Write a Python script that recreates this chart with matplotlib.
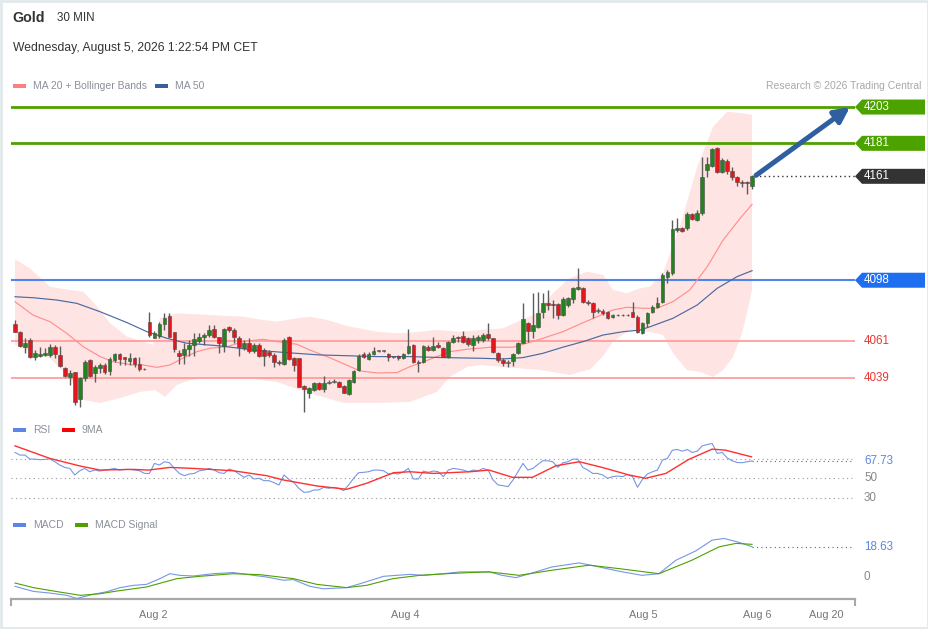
import matplotlib
matplotlib.use("Agg")
import matplotlib.pyplot as plt
from matplotlib.patches import Rectangle, Polygon
import numpy as np

plt.rcParams['font.family'] = ['Liberation Sans', 'DejaVu Sans']

# ---------------- data ----------------
OPEN = [4071.5, 4066.8, 4057.7, 4061.8, 4051.3, 4052.2, 4052.7, 4052.7, 4057.7, 4052.7,
        4044.6, 4039.5, 4042.6, 4026.0, 4038.6, 4049.6, 4041.6, 4044.6, 4046.6, 4043.2,
        4049.6, 4053.1, 4051.3, 4049.2, 4050.7, 4047.2, 4044.0, 4072.9, 4062.8, 4064.2,
        4071.5, 4076.3, 4066.8, 4053.7, 4052.7, 4056.1, 4058.7, 4061.3, 4063.4, 4064.8,
        4068.4, 4063.4, 4058.1, 4069.5, 4067.8, 4062.8, 4056.7, 4060.1, 4055.3, 4058.7,
        4055.7, 4054.7, 4052.7, 4048.6, 4047.2, 4063.8, 4050.7, 4050.7, 4034.1, 4029.5,
        4031.5, 4035.5, 4031.9, 4036.0, 4036.5, 4036.5, 4033.9, 4028.9, 4036.5, 4043.6,
        4053.3, 4050.2, 4053.3, 4055.0, 4055.1, 4053.3, 4051.6, 4052.1, 4050.7, 4053.7,
        4058.7, 4048.6, 4048.6, 4057.7, 4055.7, 4058.7, 4056.7, 4051.6, 4060.7, 4063.8,
        4064.2, 4062.8, 4058.7, 4061.8, 4061.8, 4065.4, 4062.8, 4053.7, 4049.6, 4048.4,
        4049.0, 4053.7, 4060.1, 4072.2, 4067.4, 4069.8, 4078.9, 4084.4, 4083.6, 4083.6,
        4076.9, 4083.0, 4086.4, 4092.5, 4093.1, 4085.0, 4084.4, 4079.6, 4079.5, 4078.9,
        4075.5, 4076.9, 4076.7, 4076.9, 4078.9, 4075.9, 4065.8, 4071.9, 4078.9, 4081.9,
        4085.0, 4100.1, 4102.2, 4128.4, 4129.8, 4129.5, 4137.9, 4134.5, 4138.9, 4164.8,
        4167.2, 4178.3, 4163.8, 4170.4, 4164.4, 4160.4, 4157.7, 4157.7, 4155.1]
HIGH = [4073.9, 4067.2, 4062.8, 4062.8, 4055.7, 4057.3, 4056.7, 4059.3, 4058.7, 4058.1,
        4045.6, 4043.6, 4042.6, 4039.5, 4049.6, 4050.1, 4046.6, 4047.6, 4047.6, 4051.3,
        4053.7, 4053.7, 4051.6, 4054.1, 4051.6, 4051.6, 4044.6, 4078.9, 4067.4, 4072.9,
        4077.9, 4078.3, 4066.8, 4055.7, 4059.8, 4061.8, 4065.8, 4065.8, 4065.8, 4070.8,
        4070.8, 4063.8, 4068.8, 4070.2, 4068.8, 4064.2, 4061.8, 4062.8, 4060.1, 4059.8,
        4056.7, 4055.7, 4053.7, 4049.6, 4062.8, 4064.2, 4051.6, 4050.7, 4034.5, 4033.5,
        4036.5, 4036.5, 4039.9, 4037.5, 4038.0, 4037.1, 4034.5, 4038.0, 4043.6, 4053.1,
        4054.7, 4054.7, 4057.3, 4055.5, 4055.5, 4053.7, 4052.2, 4052.7, 4053.7, 4068.2,
        4059.3, 4049.6, 4058.7, 4058.7, 4063.8, 4060.7, 4057.3, 4061.3, 4064.8, 4064.2,
        4067.4, 4063.4, 4064.8, 4064.8, 4065.8, 4071.9, 4062.8, 4054.7, 4050.7, 4049.6,
        4053.7, 4060.7, 4084.0, 4072.9, 4090.0, 4091.0, 4090.0, 4092.1, 4086.0, 4084.0,
        4088.0, 4088.0, 4094.1, 4105.2, 4093.7, 4086.0, 4085.0, 4080.9, 4080.3, 4079.5,
        4077.5, 4077.3, 4077.3, 4077.3, 4085.0, 4076.9, 4072.9, 4078.9, 4083.0, 4088.0,
        4102.2, 4104.2, 4134.5, 4135.5, 4130.4, 4139.5, 4138.5, 4140.5, 4172.5, 4172.5,
        4177.9, 4178.9, 4171.9, 4171.3, 4166.8, 4161.1, 4158.7, 4158.1, 4161.5]
LOW = [4066.6, 4057.7, 4053.7, 4050.7, 4049.6, 4051.6, 4052.1, 4051.6, 4050.7, 4045.6,
       4039.5, 4034.5, 4022.4, 4021.3, 4037.1, 4039.5, 4036.5, 4041.6, 4041.2, 4040.6,
       4048.6, 4046.6, 4046.6, 4046.6, 4045.6, 4043.2, 4043.6, 4063.4, 4062.8, 4062.8,
       4067.8, 4063.4, 4054.7, 4047.2, 4047.2, 4052.1, 4052.1, 4060.1, 4058.7, 4063.4,
       4062.8, 4053.7, 4054.7, 4066.8, 4059.8, 4052.1, 4055.7, 4053.7, 4053.7, 4051.6,
       4046.0, 4051.6, 4045.6, 4046.6, 4046.6, 4049.6, 4043.2, 4033.1, 4018.3, 4026.4,
       4031.0, 4031.5, 4030.4, 4035.1, 4035.5, 4033.1, 4029.5, 4028.4, 4035.9, 4043.0,
       4050.7, 4049.6, 4052.7, 4054.5, 4054.5, 4049.2, 4051.0, 4049.6, 4050.2, 4053.3,
       4048.0, 4042.6, 4048.0, 4055.3, 4055.3, 4056.7, 4051.3, 4050.7, 4060.1, 4060.7,
       4060.1, 4058.1, 4055.3, 4060.1, 4060.7, 4061.8, 4054.1, 4048.6, 4046.0, 4045.6,
       4046.0, 4053.1, 4059.8, 4060.7, 4062.8, 4068.8, 4074.9, 4079.9, 4074.9, 4074.3,
       4076.3, 4081.9, 4084.0, 4092.1, 4084.4, 4083.0, 4074.9, 4077.9, 4076.9, 4074.3,
       4074.9, 4076.3, 4076.3, 4076.3, 4075.5, 4065.8, 4065.4, 4069.8, 4077.9, 4081.0,
       4084.0, 4096.1, 4101.2, 4127.4, 4127.2, 4128.4, 4134.5, 4134.1, 4137.5, 4160.3,
       4166.8, 4163.1, 4163.1, 4162.4, 4158.7, 4155.1, 4154.3, 4150.2, 4153.1]
CLOSE = [4066.8, 4058.1, 4060.1, 4051.6, 4054.1, 4053.1, 4053.7, 4057.7, 4053.3, 4046.0,
         4040.0, 4041.9, 4024.4, 4038.6, 4048.6, 4040.0, 4045.2, 4046.6, 4042.6, 4050.1,
         4053.1, 4050.1, 4050.1, 4050.7, 4047.2, 4044.0, 4044.2, 4064.8, 4065.8, 4071.5,
         4074.9, 4063.8, 4056.1, 4052.1, 4056.1, 4058.7, 4062.2, 4063.4, 4064.8, 4067.8,
         4063.4, 4059.8, 4068.4, 4067.8, 4063.4, 4057.3, 4060.1, 4055.3, 4058.7, 4052.1,
         4052.1, 4052.7, 4048.6, 4047.6, 4061.8, 4050.1, 4046.6, 4033.5, 4031.9, 4032.5,
         4035.9, 4031.9, 4035.9, 4036.3, 4036.6, 4033.5, 4029.8, 4037.5, 4043.0, 4052.3,
         4051.3, 4053.3, 4055.3, 4055.1, 4055.0, 4051.3, 4051.8, 4050.7, 4053.1, 4058.1,
         4048.6, 4047.6, 4058.1, 4055.7, 4058.1, 4057.3, 4051.6, 4060.7, 4062.8, 4062.8,
         4060.7, 4059.3, 4062.8, 4063.4, 4064.8, 4062.8, 4054.7, 4049.6, 4047.6, 4048.1,
         4053.1, 4060.1, 4074.3, 4067.4, 4070.8, 4077.9, 4084.0, 4083.0, 4083.0, 4076.9,
         4086.4, 4087.0, 4093.1, 4094.1, 4085.0, 4084.0, 4078.9, 4079.3, 4077.9, 4074.9,
         4076.9, 4076.7, 4076.9, 4076.7, 4075.9, 4066.8, 4072.2, 4077.9, 4081.9, 4084.0,
         4101.2, 4103.2, 4128.8, 4129.8, 4127.8, 4137.9, 4134.9, 4138.9, 4160.7, 4168.4,
         4177.3, 4163.8, 4170.8, 4164.4, 4160.4, 4157.7, 4157.1, 4156.7, 4161.0]

# Moving averages / Bollinger bands read at sample candles
MA20_IDX = [0, 3.6, 7.0, 10.4, 13.7, 17.1, 19.7, 23.7, 25.7, 28.5, 31.1, 33.7, 36.5, 39.2, 42.6,
            45.8, 49.8, 52.6, 56.6, 59.2, 63.3, 69.3, 72.7, 76.7, 79.3, 81.3, 84.7, 87.3, 90.8,
            93.4, 95.4, 100, 102.8, 106, 110, 113.5, 116.9, 120.1, 122.9, 126.1, 128.9, 132.1,
            135.5, 139, 142.2, 145.6, 148]
MA20 = [4085.0, 4076.9, 4072.9, 4065.8, 4057.7, 4051.7, 4048.6, 4046.6, 4046.6, 4045.2, 4046.6,
        4050.7, 4054.7, 4056.8, 4057.7, 4060.8, 4062.2, 4060.8, 4059.2, 4055.7, 4050.9, 4043.0,
        4041.8, 4042.0, 4045.6, 4047.7, 4051.7, 4054.7, 4056.2, 4056.8, 4057.4, 4057.4, 4059.8,
        4062.8, 4066.8, 4071.5, 4075.9, 4080.0, 4081.6, 4081.0, 4081.0, 4085.0, 4092.1, 4106.2,
        4122.4, 4135.5, 4144.0]
MA50_IDX = [0, 3.6, 8.4, 12.4, 17.1, 22.5, 26.5, 30.5, 34.5, 41.2, 47.8, 54.6, 61.2, 65.9, 72.7,
            79.3, 85.9, 93.4, 98, 102, 106, 110, 114.1, 118.1, 122.1, 125.5, 127.5, 132.1, 137,
            141, 145, 148]
MA50 = [4088.0, 4087.4, 4086.0, 4084.0, 4078.9, 4072.3, 4066.8, 4062.8, 4059.8, 4058.2, 4055.7,
        4054.1, 4052.7, 4052.3, 4051.7, 4051.7, 4051.1, 4050.7, 4050.3, 4051.1, 4053.7, 4057.4,
        4060.8, 4064.8, 4066.8, 4067.8, 4069.8, 4074.9, 4083.0, 4093.1, 4100.2, 4103.8]
BB_UP_IDX = [0, 3, 7, 11, 13.7, 16.5, 19.1, 22.5, 25.7, 27.7, 29.1, 32.5, 39.2, 45.8, 49.8, 52.6,
             56.6, 59.2, 62.7, 67.3, 72.7, 76.7, 79.3, 84.7, 89.4, 93.4, 98, 104.8, 108, 111.4,
             114.9, 118.1, 120.1, 122.9, 125.5, 127.5, 130.1, 133.5, 137, 140.2, 143, 146.2, 148]
BB_UP = [4110.7, 4105.2, 4094.1, 4092.1, 4091.1, 4082.0, 4071.9, 4063.8, 4060.8, 4058.8, 4074.9,
         4078.0, 4076.9, 4075.9, 4073.9, 4072.9, 4074.9, 4075.9, 4073.9, 4069.8, 4066.8, 4065.8,
         4066.2, 4067.8, 4066.8, 4067.8, 4068.9, 4078.0, 4090.1, 4099.2, 4103.2, 4101.2, 4092.1,
         4090.1, 4093.1, 4094.1, 4102.2, 4130.5, 4166.8, 4191.1, 4200.2, 4199.2, 4198.2]
BB_LO_IDX = [0, 3, 7, 11, 13.7, 17.1, 21.1, 25.1, 28.1, 30.1, 32.5, 35.1, 39.2, 45.2, 49.8, 52.6,
             57.2, 59.2, 65.9, 72.7, 79.3, 84.7, 87.3, 90.8, 93.4, 98, 105.4, 111.4, 115.5, 118.1,
             120.1, 123.5, 127.5, 130.1, 132.1, 134.9, 137.5, 140.2, 142.2, 144.2, 146, 147, 148]
BB_LO = [4058.8, 4054.5, 4050.9, 4038.8, 4025.4, 4023.6, 4026.6, 4030.3, 4031.5, 4027.2, 4034.5,
         4037.5, 4038.8, 4038.8, 4037.5, 4036.3, 4031.5, 4029.7, 4023.6, 4023.6, 4024.2, 4030.3,
         4039.4, 4045.4, 4046.6, 4045.4, 4043.6, 4040.6, 4044.0, 4052.0, 4061.0, 4067.8, 4066.6,
         4064.8, 4053.9, 4043.6, 4042.4, 4039.4, 4043.6, 4051.5, 4066.0, 4078.2, 4092.1]

RSI = [76.4, 73.7, 73.7, 69.6, 69.6, 69.0, 69.3, 69.9, 66.9, 63.5, 61.1, 60.1, 53.4, 57.7, 60.1,
       56.7, 58.4, 57.4, 58.4, 59.1, 60.1, 58.4, 59.1, 59.1, 58.4, 57.7, 55.0, 55.0, 65.2, 63.5,
       66.9, 65.9, 60.1, 55.0, 52.7, 54.4, 55.0, 57.7, 58.4, 60.1, 58.4, 55.7, 55.0, 59.4, 57.7,
       54.4, 51.0, 53.4, 49.3, 50.0, 47.6, 47.6, 45.6, 43.2, 53.4, 49.0, 45.6, 39.8, 35.7, 36.0,
       38.1, 38.1, 40.8, 39.8, 40.8, 39.8, 37.4, 43.2, 50.0, 55.7, 56.1, 56.7, 58.4, 58.4, 57.7,
       54.4, 55.0, 54.4, 56.7, 60.1, 49.3, 49.3, 57.4, 56.1, 57.4, 56.7, 51.7, 58.4, 60.1, 59.4,
       58.4, 56.7, 58.4, 57.7, 60.1, 58.4, 48.3, 43.2, 42.5, 41.5, 48.3, 56.7, 65.2, 58.4, 60.1,
       64.2, 67.9, 67.9, 66.9, 61.1, 65.9, 66.9, 69.6, 69.6, 61.1, 58.4, 55.0, 55.0, 53.4, 50.0,
       51.7, 52.3, 51.7, 54.0, 51.7, 40.8, 49.0, 54.4, 56.7, 58.4, 68.6, 70.3, 78.7, 79.4, 77.7,
       79.4, 76.4, 77.7, 83.1, 84.5, 85.5, 75.4, 76.4, 70.9, 67.9, 66.2, 65.9, 66.9, 67.73]
RSI_MA_IDX = [0, 7.0, 13.1, 17.1, 23.8, 26.8, 31.1, 35.8, 43.8, 50.5, 53.9, 60.6, 66.6, 70.6, 76.0,
              79.3, 84.0, 91.4, 95.2, 99.9, 103.9, 108.6, 113.3, 117.9, 123.3, 126.6, 130.7, 135.3,
              140.0, 142.7, 147.9]
RSI_MA = [83.1, 70.3, 62.5, 58.4, 59.1, 58.4, 61.1, 60.1, 57.7, 52.7, 48.3, 42.2, 38.8, 44.9, 55.7,
          56.7, 55.0, 56.7, 58.4, 51.0, 51.0, 62.8, 66.9, 61.1, 53.4, 50.0, 55.0, 69.3, 79.8, 78.7,
          71.9]

MACD_IDX = [0, 3.7, 7.0, 10.4, 12.4, 15.7, 18.4, 21.1, 23.8, 26.4, 29.1, 31.1, 33.1, 35.8, 39.8,
            43.8, 47.9, 50.5, 53.9, 55.9, 59.2, 61.9, 66.6, 69.3, 74.0, 79.3, 82.0, 86.0, 89.4,
            95.2, 97.8, 100.6, 103.8, 107.8, 113.3, 117.3, 121.3, 125.9, 129.3, 132.7, 136.7,
            140.0, 142.4, 145.4, 148.0]
MACD = [-5.5, -8.6, -9.6, -11.0, -12.9, -10.4, -8.8, -6.3, -4.9, -4.3, -0.8, 2.2, 1.2, 0.8, 2.2,
        2.9, 1.2, 0.2, -1.8, -1.4, -5.5, -7.0, -6.3, -3.9, 0.6, 1.8, 1.2, 2.2, 3.3, 3.3, 1.2, -0.2,
        2.6, 6.3, 8.8, 6.3, 3.7, 1.2, 2.2, 10.4, 16.1, 22.7, 23.7, 21.3, 18.63]
SIG_IDX = [0, 3.7, 7.0, 13.1, 17.1, 20.4, 26.4, 32.5, 37.1, 43.8, 49.2, 55.9, 60.6, 66.6, 70.6,
           75.9, 81.3, 86.7, 91.4, 95.2, 101.2, 107.8, 115.3, 121.3, 129.3, 135.9, 141.4, 144.8,
           148.0]
SIGNAL = [-3.5, -6.3, -8.0, -11.0, -10.0, -8.4, -5.9, -0.8, 0.6, 2.2, 1.6, -0.8, -4.3, -6.3, -4.9,
          -0.8, 1.2, 2.2, 2.9, 3.3, 1.2, 4.3, 7.4, 5.3, 2.2, 10.4, 18.6, 20.7, 20.1]

LEVELS = [4203, 4181, 4161, 4098, 4061, 4039]
LEVEL_KIND = ['green', 'green', 'last', 'blue', 'red', 'red']
XTICK_IDX = [27.7, 78.3, 126.1, 149.0, 162.9]
XTICK_LABELS = ['Aug 2', 'Aug 4', 'Aug 5', 'Aug 6', 'Aug 20']
RSI_GRID = [70, 50, 30]

# ---------------- layout ----------------
W, H = 929, 629
fig = plt.figure(figsize=(W / 100, H / 100), dpi=100)
fig.patch.set_facecolor('white')


def rect(x0, y0, x1, y1):
    return [x0 / W, 1 - y1 / H, (x1 - x0) / W, (y1 - y0) / H]


XL = ((11 - 15) / 4.98, (855 - 15) / 4.98)
DOT_END = (852 - 15) / 4.98
TAG_X0 = XL[1]
TAG_NOTCH = 7 / 4.98
TAG_X1 = (925 - 15) / 4.98
LABEL_X = (864 - 15) / 4.98

GREEN = '#4ea100'
BLUE_LINE = '#4f86ea'
RED_LINE = '#ff9d9d'
LBL_GRAY = '#8b8f99'

# -------- price panel --------
ax = fig.add_axes(rect(11, 95, 855, 415))
ax.set_xlim(*XL)
ax.set_ylim(4016.3, 4210.3)
ax.axis('off')

poly = list(zip(BB_UP_IDX, BB_UP)) + list(zip(BB_LO_IDX[::-1], BB_LO[::-1]))
ax.add_patch(Polygon(poly, closed=True, facecolor='#ffe4e4', edgecolor='none', zorder=0))
ax.plot(MA20_IDX, MA20, color='#ff8f8f', lw=0.85, zorder=2)
ax.plot(MA50_IDX, MA50, color='#4a6aa0', lw=0.85, zorder=2)

for lv, kind in zip(LEVELS, LEVEL_KIND):
    if kind == 'green':
        ax.axhline(lv, color=GREEN, lw=2, zorder=1)
    elif kind == 'blue':
        ax.axhline(lv, color=BLUE_LINE, lw=1.5, zorder=1)
    elif kind == 'red':
        ax.axhline(lv, color=RED_LINE, lw=1.3, zorder=1)

n = len(CLOSE)
bw = 0.74
for i in range(n):
    o, h, l, c = OPEN[i], HIGH[i], LOW[i], CLOSE[i]
    if abs(c - o) < 0.5:
        col = '#8a8a8a'
    elif c > o:
        col = '#22831f'
    else:
        col = '#e3161b'
    ax.vlines(i, l, h, color='#5c5c5c', lw=1.0, zorder=3)
    bottom = min(o, c)
    height = max(abs(c - o), 0.45)
    ax.add_patch(Rectangle((i - bw / 2, bottom), bw, height, facecolor=col,
                           edgecolor='#4a4a4a', lw=0.4, zorder=4))

last = CLOSE[-1]
ax.plot([n - 0.5, TAG_X0], [last, last], color='#333333', lw=1, ls=(0, (1, 2.2)), zorder=2)

# target arrow
ax.annotate('', xy=((850 - 15) / 4.98, LEVELS[0]), xytext=(n - 0.2, last + 0.6),
            arrowprops=dict(arrowstyle='-|>,head_width=0.45,head_length=0.9',
                            color='#2f5f9f', lw=3.6, shrinkA=0, shrinkB=0), zorder=6)

# right tags
hh = 7.5 / 1.65
for lv, kind in zip(LEVELS, LEVEL_KIND):
    if kind in ('green', 'last', 'blue'):
        fc = {'green': '#4ca300', 'last': '#333333', 'blue': '#1e6ff0'}[kind]
        pts = [(TAG_X0, lv), (TAG_X0 + TAG_NOTCH, lv + hh), (TAG_X1, lv + hh),
               (TAG_X1, lv - hh), (TAG_X0 + TAG_NOTCH, lv - hh)]
        ax.add_patch(Polygon(pts, closed=True, facecolor=fc, edgecolor='none',
                             clip_on=False, zorder=7))
        ax.text(LABEL_X, lv, f'{lv}', color='white', fontsize=8.4, va='center',
                ha='left', clip_on=False, zorder=8)
    else:
        ax.text(LABEL_X, lv, f'{lv}', color='#e53935', fontsize=8.4, va='center',
                ha='left', clip_on=False)

# -------- RSI panel --------
axr = fig.add_axes(rect(11, 440, 855, 510))
axr.set_xlim(*XL)
axr.set_ylim(17.65, 89.1)
axr.axis('off')
for g in RSI_GRID:
    axr.plot([XL[0], DOT_END], [g, g], color='#9a9a9a', lw=0.8, ls=(0, (1, 3)))
axr.plot(range(n), RSI, color='#7796e6', lw=0.8, zorder=3)
axr.plot(RSI_MA_IDX, RSI_MA, color='#ff3030', lw=1.0, zorder=4)
axr.plot([n - 1, DOT_END], [RSI[-1], RSI[-1]], color='#56627c', lw=0.8, ls=(0, (1, 3)))
axr.text(LABEL_X, RSI[-1], f'{RSI[-1]:.2f}', color='#5b86e5', fontsize=8.4, va='center',
         clip_on=False)
for g in (50, 30):
    axr.text(LABEL_X, g, f'{g}', color='#888888', fontsize=8.4, va='center', clip_on=False)

# -------- MACD panel --------
axm = fig.add_axes(rect(11, 515, 855, 599))
axm.set_xlim(*XL)
axm.set_ylim(-13.23, 38.0)
for s in ('top', 'left', 'right'):
    axm.spines[s].set_visible(False)
axm.spines['bottom'].set_color('#a8a8a8')
axm.spines['bottom'].set_linewidth(1.6)
axm.set_yticks([])
axm.set_xticks(XTICK_IDX, XTICK_LABELS)
axm.tick_params(axis='x', length=0, pad=8, labelsize=7.8, labelcolor='#777777')
axm.patch.set_alpha(0)
axm.plot(MACD_IDX, MACD, color='#7796e6', lw=0.8, zorder=3)
axm.plot(SIG_IDX, SIGNAL, color='#4ea100', lw=0.8, zorder=3)
axm.plot([MACD_IDX[-1], DOT_END], [MACD[-1], MACD[-1]], color='#56627c', lw=0.8,
         ls=(0, (1, 3)))
axm.text(LABEL_X, MACD[-1], f'{MACD[-1]:.2f}', color='#5b86e5', fontsize=8.4, va='center',
         clip_on=False)
axm.text(LABEL_X, 0, '0', color='#888888', fontsize=8.4, va='center', clip_on=False)

# -------- overlay: header, legends, border --------
ov = fig.add_axes([0, 0, 1, 1], zorder=-1)
ov.set_xlim(0, W)
ov.set_ylim(H, 0)
ov.axis('off')
ov.add_patch(Rectangle((1, 1), W - 2, H - 2, facecolor='none', edgecolor='#e2e8eb', lw=2))
# x-axis end ticks
ov.plot([11, 11], [599, 605], color='#a8a8a8', lw=1.5)
ov.plot([855, 855], [599, 605], color='#a8a8a8', lw=1.5)

ov.text(12, 18, 'Gold', fontsize=10.3, fontweight='bold', color='#333333', va='center')
ov.text(57, 18, '30 MIN', fontsize=8.4, color='#333333', va='center')
ov.text(13, 48, 'Wednesday, August 5, 2026 1:22:54 PM CET', fontsize=8.7, color='#333333',
        va='center')


def legend_item(x, y, color, label):
    ov.add_patch(Rectangle((x, y - 2), 13, 4, facecolor=color, edgecolor='none'))
    ov.text(x + 20, y, label, fontsize=7.5, color=LBL_GRAY, va='center')


legend_item(13, 86, '#ff7f7f', 'MA 20 + Bollinger Bands')
legend_item(155, 86, '#3a5f9a', 'MA 50')
ov.text(921, 86, 'Research \u00a9 2026 Trading Central', fontsize=7.5, color='#a8a8a8',
        va='center', ha='right')
legend_item(13, 430, '#5b86e5', 'RSI')
legend_item(62, 430, '#ff0000', '9MA')
legend_item(13, 525, '#5b86e5', 'MACD')
legend_item(75, 525, '#4ea100', 'MACD Signal')

fig.savefig('out.png', dpi=100, facecolor='white')
